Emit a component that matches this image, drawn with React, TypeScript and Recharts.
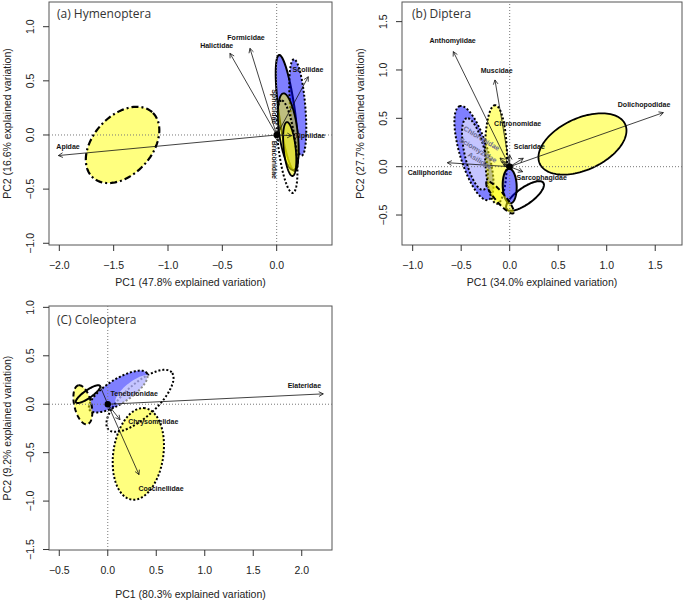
import React from "react";
import {
  ScatterChart,
  Scatter,
  XAxis,
  YAxis,
  ReferenceLine,
  ReferenceArea,
  ReferenceDot,
} from "recharts";

const FONT = "'Liberation Sans', Arial, Helvetica, sans-serif";
const TITLE_FONT = "'Open Sans', 'Noto Sans', sans-serif";

// ---------------- (a) Hymenoptera ----------------
const hymXTicks = [-2, -1.5, -1, -0.5, 0];
const hymYTicks = [-1, -0.5, 0, 0.5, 1];
const hymArrows = [
  { name: "Apidae", x: -2.009, y: -0.19 },
  { name: "Halictidae", x: -0.43, y: 0.754 },
  { name: "Formicidae", x: -0.246, y: 0.8 },
  { name: "Scoliidae", x: 0.291, y: 0.538 },
  { name: "Tiphiidae", x: 0.138, y: -0.006 },
  { name: "Sphecidae", x: 0.02, y: 0.09 },
  { name: "Braconidae", x: 0.02, y: -0.06 },
];
const hymLabels = [
  { name: "Apidae", x: -1.92, y: -0.111, rot: 0, tone: "dark" },
  { name: "Halictidae", x: -0.552, y: 0.822, rot: 0, tone: "dark" },
  { name: "Formicidae", x: -0.282, y: 0.902, rot: 0, tone: "dark" },
  { name: "Scoliidae", x: 0.288, y: 0.609, rot: 0, tone: "dark" },
  { name: "Tiphiidae", x: 0.306, y: -0.009, rot: 0, tone: "dark" },
  { name: "Sphecidae", x: -0.022, y: 0.261, rot: 90, tone: "dark" },
  { name: "Braconidae", x: -0.022, y: -0.23, rot: 90, tone: "dark" },
];
const hymEllipses = [
  { cx: -1.418, cy: -0.092, a: 0.407, b: 0.27, angle: 48, kind: "yellowDotDash" },
  { cx: 0.095, cy: 0.203, a: 0.54, b: 0.075, angle: 97.7, kind: "blueSolid" },
  { cx: 0.194, cy: 0.254, a: 0.446, b: 0.07, angle: 94.6, kind: "blueDotted" },
  { cx: 0.107, cy: 0.03, a: 0.357, b: 0.085, angle: 97.4, kind: "yellowSolid" },
  { cx: 0.12, cy: -0.13, a: 0.25, b: 0.055, angle: 96, kind: "yellowSolid" },
  { cx: 0.096, cy: -0.108, a: 0.43, b: 0.08, angle: 97, kind: "emptyDotted" },
];
const hymCentroids = [{ x: 0, y: 0 }];

// ---------------- (b) Diptera ----------------
const dipXTicks = [-1, -0.5, 0, 0.5, 1, 1.5];
const dipYTicks = [-0.5, 0, 0.5, 1, 1.5];
const dipArrows = [
  { name: "Anthomyiidae", x: -0.581, y: 1.19 },
  { name: "Muscidae", x: -0.152, y: 0.897 },
  { name: "Dolichopodidae", x: 1.584, y: 0.559 },
  { name: "Calliphoridae", x: -0.643, y: 0.041 },
  { name: "Sciaridae", x: 0.14, y: 0.087 },
  { name: "Sarcophagidae", x: 0.134, y: -0.052 },
  { name: "Chironomidae", x: 0.0, y: 0.12 },
  { name: "Chloropidae", x: -0.1, y: 0.09 },
  { name: "Sciomyzidae", x: -0.08, y: 0.05 },
  { name: "Asilidae", x: -0.06, y: 0.02 },
];
const dipLabels = [
  { name: "Anthomyiidae", x: -0.588, y: 1.303, rot: 0, tone: "dark" },
  { name: "Muscidae", x: -0.134, y: 0.99, rot: 0, tone: "dark" },
  { name: "Dolichopodidae", x: 1.385, y: 0.645, rot: 0, tone: "dark" },
  { name: "Calliphoridae", x: -0.822, y: -0.062, rot: 0, tone: "dark" },
  { name: "Sciaridae", x: 0.202, y: 0.207, rot: 0, tone: "dark" },
  { name: "Sarcophagidae", x: 0.33, y: -0.114, rot: 0, tone: "dark" },
  { name: "Chironomidae", x: 0.082, y: 0.442, rot: 0, tone: "dark" },
  { name: "Chloropidae", x: -0.289, y: 0.294, rot: 31, tone: "faded" },
  { name: "Sciomyzidae", x: -0.324, y: 0.173, rot: 31, tone: "faded" },
  { name: "Asilidae", x: -0.306, y: 0.062, rot: 31, tone: "faded" },
];
const dipEllipses = [
  { cx: 0.75, cy: 0.235, a: 0.485, b: 0.267, angle: 25, kind: "yellowSolid" },
  { cx: 0.158, cy: -0.303, a: 0.233, b: 0.085, angle: 36, kind: "emptySolid" },
  { cx: -0.368, cy: 0.141, a: 0.507, b: 0.145, angle: 106.8, kind: "blueDotted" },
  { cx: -0.358, cy: 0.131, a: 0.38, b: 0.105, angle: 103, kind: "paleDotted" },
  { cx: -0.141, cy: 0.126, a: 0.51, b: 0.113, angle: 91, kind: "yellowDotted" },
  { cx: 0.0, cy: -0.2, a: 0.18, b: 0.072, angle: 92, kind: "blueSolid" },
  { cx: -0.1, cy: -0.318, a: 0.213, b: 0.05, angle: 130, kind: "yellowDashed" },
];
const dipCentroids = [{ x: 0, y: 0 }];

// ---------------- (C) Coleoptera ----------------
const colXTicks = [-0.5, 0, 0.5, 1, 1.5, 2];
const colYTicks = [-1.5, -1, -0.5, 0, 0.5, 1];
const colArrows = [
  { name: "Elateridae", x: 2.222, y: 0.107 },
  { name: "Chrysomelidae", x: 0.126, y: -0.16 },
  { name: "Coccinellidae", x: 0.322, y: -0.727 },
  { name: "Tenebrionidae", x: -0.08, y: 0.19 },
];
const colLabels = [
  { name: "Elateridae", x: 2.027, y: 0.193, rot: 0, tone: "dark" },
  { name: "Chrysomelidae", x: 0.469, y: -0.178, rot: 0, tone: "dark" },
  { name: "Coccinellidae", x: 0.549, y: -0.871, rot: 0, tone: "dark" },
  { name: "Tenebrionidae", x: 0.273, y: 0.114, rot: 0, tone: "dark" },
];
const colEllipses = [
  { cx: 0.315, cy: -0.513, a: 0.477, b: 0.258, angle: 81.7, kind: "yellowDotted" },
  { cx: 0.332, cy: 0.035, a: 0.44, b: 0.17, angle: 42, kind: "emptyDotted" },
  { cx: 0.108, cy: 0.131, a: 0.351, b: 0.124, angle: 32.6, kind: "blueDotted" },
  { cx: 0.263, cy: 0.148, a: 0.227, b: 0.082, angle: 38, kind: "paleNone" },
  { cx: -0.257, cy: -0.006, a: 0.206, b: 0.088, angle: 103, kind: "yellowDashed" },
  { cx: -0.204, cy: 0.104, a: 0.15, b: 0.041, angle: 34.8, kind: "emptySolid" },
];
const colCentroids = [{ x: 0, y: 0 }];

// ---------------- styles ----------------
const YEL = "rgba(255,255,0,0.5)";
const BLU = "rgba(0,0,255,0.5)";
const PALE = "rgba(255,255,255,0.55)";
const ELLIPSE_STYLE: Record<string, { fill: string; stroke: string; dash?: string; w: number }> = {
  yellowSolid: { fill: YEL, stroke: "#000", w: 1.8 },
  yellowDotted: { fill: YEL, stroke: "#000", dash: "2 2", w: 2 },
  yellowDashed: { fill: YEL, stroke: "#000", dash: "5 3", w: 2 },
  yellowDotDash: { fill: YEL, stroke: "#000", dash: "7 3 2 3", w: 2.2 },
  blueSolid: { fill: BLU, stroke: "#000", w: 2 },
  blueDotted: { fill: BLU, stroke: "#000", dash: "2 2", w: 2 },
  paleDotted: { fill: PALE, stroke: "#000", dash: "2 2", w: 2 },
  paleNone: { fill: PALE, stroke: "none", w: 0 },
  emptySolid: { fill: "none", stroke: "#000", w: 2 },
  emptyDotted: { fill: "none", stroke: "#000", dash: "2 2", w: 2 },
};

const UNIT = 0.1; // probe size used to read the axis scales from a ReferenceArea

function ellipsePath(X0: number, Y0: number, kx: number, ky: number, a: number, b: number, angDeg: number) {
  const th = (angDeg * Math.PI) / 180;
  const n = 120;
  let d = "";
  for (let i = 0; i <= n; i++) {
    const t = (2 * Math.PI * i) / n;
    const dx = a * Math.cos(t) * Math.cos(th) - b * Math.sin(t) * Math.sin(th);
    const dy = a * Math.cos(t) * Math.sin(th) + b * Math.sin(t) * Math.cos(th);
    const px = X0 + kx * dx;
    const py = Y0 - ky * dy;
    d += (i === 0 ? "M" : "L") + px.toFixed(2) + "," + py.toFixed(2);
  }
  return d + "Z";
}

const fmt = (v: number) => {
  const s = Math.abs(v).toFixed(1);
  return v < 0 ? "\u2212" + s : s;
};

type PanelCfg = {
  left: number;
  top: number;
  width: number;
  height: number;
  margin: { top: number; right: number; bottom: number; left: number };
  yAxisWidth: number;
  xAxisHeight: number;
  xDomain: [number, number];
  yDomain: [number, number];
  xTicks: number[];
  yTicks: number[];
  ellipses: typeof hymEllipses;
  arrows: typeof hymArrows;
  labels: typeof hymLabels;
  centroids: { x: number; y: number }[];
  title: string;
  titleDx: number;
  titleDy: number;
  xTitle: string;
  yTitle: string;
  xTitleDy: number;
};

const XTick = (props: any) => {
  const { x, y, payload } = props;
  return (
    <text x={x} y={y + 18} textAnchor="middle" fontFamily={FONT} fontSize={10.5} fill="#222">
      {fmt(payload.value)}
    </text>
  );
};

const YTick = (props: any) => {
  const { x, y, payload } = props;
  const bx = x - 9;
  return (
    <text
      x={bx}
      y={y}
      transform={`rotate(-90, ${bx}, ${y})`}
      textAnchor="middle"
      fontFamily={FONT}
      fontSize={10.5}
      fill="#222"
    >
      {fmt(payload.value)}
    </text>
  );
};

function arrowShape(props: any) {
  const { x1, y1, x2, y2 } = props;
  if (x1 == null || x2 == null) return <g />;
  const ang = Math.atan2(y2 - y1, x2 - x1);
  const L = 5;
  const spread = (28 * Math.PI) / 180;
  const ax1 = x2 - L * Math.cos(ang - spread);
  const ay1 = y2 - L * Math.sin(ang - spread);
  const ax2 = x2 - L * Math.cos(ang + spread);
  const ay2 = y2 - L * Math.sin(ang + spread);
  return (
    <g>
      <line x1={x1} y1={y1} x2={x2} y2={y2} stroke="#111" strokeWidth={0.8} />
      <polyline points={`${ax1},${ay1} ${x2},${y2} ${ax2},${ay2}`} fill="none" stroke="#111" strokeWidth={0.8} />
    </g>
  );
}

function Panel({ cfg }: { cfg: PanelCfg }) {
  const [x0, x1] = cfg.xDomain;
  const [y0, y1] = cfg.yDomain;
  return (
    <div style={{ position: "absolute", left: cfg.left, top: cfg.top, width: cfg.width, height: cfg.height }}>
      <ScatterChart width={cfg.width} height={cfg.height} margin={cfg.margin}>
        <XAxis
          type="number"
          dataKey="x"
          domain={cfg.xDomain}
          ticks={cfg.xTicks}
          allowDataOverflow
          axisLine={false}
          tickLine={{ stroke: "#333" }}
          tickSize={6}
          tickMargin={0}
          height={cfg.xAxisHeight}
          tick={<XTick />}
          interval={0}
          label={{
            content: (p: any) => {
              const vb = p.viewBox || { x: 0, y: 0, width: 0 };
              return (
                <text
                  x={vb.x + vb.width / 2}
                  y={vb.y + cfg.xTitleDy}
                  textAnchor="middle"
                  fontFamily={FONT}
                  fontSize={10.5}
                  fill="#222"
                >
                  {cfg.xTitle}
                </text>
              );
            },
          }}
        />
        <YAxis
          type="number"
          dataKey="y"
          domain={cfg.yDomain}
          ticks={cfg.yTicks}
          allowDataOverflow
          axisLine={false}
          tickLine={{ stroke: "#333" }}
          tickSize={6}
          tickMargin={0}
          width={cfg.yAxisWidth}
          tick={<YTick />}
          interval={0}
          label={{
            content: (p: any) => {
              const vb = p.viewBox || { x: 0, y: 0, width: 0, height: 0 };
              const bx = vb.x + vb.width - 38;
              const cy = vb.y + vb.height / 2;
              return (
                <text
                  x={bx}
                  y={cy}
                  transform={`rotate(-90, ${bx}, ${cy})`}
                  textAnchor="middle"
                  fontFamily={FONT}
                  fontSize={10.5}
                  fill="#222"
                >
                  {cfg.yTitle}
                </text>
              );
            },
          }}
        />
        {/* zero lines */}
        <ReferenceLine x={0} stroke="#777" strokeDasharray="1 2" strokeWidth={1} />
        <ReferenceLine y={0} stroke="#777" strokeDasharray="1 2" strokeWidth={1} />
        {/* ellipses */}
        {cfg.ellipses.map((e, i) => {
          const st = ELLIPSE_STYLE[e.kind];
          return (
            <ReferenceArea
              key={"e" + i}
              x1={e.cx}
              x2={e.cx + UNIT}
              y1={e.cy}
              y2={e.cy + UNIT}
              ifOverflow="visible"
              shape={(p: any) => {
                if (p.x == null) return <g />;
                const kx = p.width / UNIT;
                const ky = p.height / UNIT;
                const X0 = p.x;
                const Y0 = p.y + p.height;
                return (
                  <path
                    d={ellipsePath(X0, Y0, kx, ky, e.a, e.b, e.angle)}
                    fill={st.fill}
                    stroke={st.stroke}
                    strokeWidth={st.w}
                    strokeDasharray={st.dash}
                  />
                );
              }}
            />
          );
        })}
        {/* loading arrows */}
        {cfg.arrows.map((a, i) => (
          <ReferenceLine
            key={"a" + i}
            segment={[
              { x: 0, y: 0 },
              { x: a.x, y: a.y },
            ]}
            ifOverflow="visible"
            shape={arrowShape}
          />
        ))}
        <Scatter
          data={cfg.centroids}
          isAnimationActive={false}
          shape={(p: any) => <circle cx={p.cx} cy={p.cy} r={3.2} fill="#000" />}
        />
        {/* arrow labels */}
        {cfg.labels.map((l, i) => (
          <ReferenceDot
            key={"l" + i}
            x={l.x}
            y={l.y}
            ifOverflow="visible"
            shape={(p: any) => (
              <text
                x={p.cx}
                y={p.cy}
                dy={2.5}
                transform={l.rot ? `rotate(${l.rot}, ${p.cx}, ${p.cy})` : undefined}
                textAnchor="middle"
                fontFamily={FONT}
                fontSize={7}
                fontWeight="bold"
                opacity={0.99}
                fill={l.tone === "faded" ? "#6b6b8f" : "#111"}
              >
                {l.name}
              </text>
            )}
          />
        ))}
        {/* plot box + panel title */}
        <ReferenceArea
          x1={x0}
          x2={x1}
          y1={y0}
          y2={y1}
          ifOverflow="visible"
          shape={(p: any) => (
            <g>
              <rect x={p.x} y={p.y} width={p.width} height={p.height} fill="none" stroke="#555" strokeWidth={1} />
              <text x={p.x + cfg.titleDx} y={p.y + cfg.titleDy} fontFamily={TITLE_FONT} fontSize={12} fill="#333">
                {cfg.title}
              </text>
            </g>
          )}
        />
      </ScatterChart>
    </div>
  );
}

const panelA: PanelCfg = {
  left: 0,
  top: 0,
  width: 340,
  height: 290,
  margin: { top: 2, right: 8, bottom: 0, left: 0 },
  yAxisWidth: 49,
  xAxisHeight: 45,
  xDomain: [-2.095, 0.509],
  yDomain: [-1.016, 1.228],
  xTicks: hymXTicks,
  yTicks: hymYTicks,
  ellipses: hymEllipses,
  arrows: hymArrows,
  labels: hymLabels,
  centroids: hymCentroids,
  title: "(a) Hymenoptera",
  titleDx: 8,
  titleDy: 15.5,
  xTitle: "PC1 (47.8% explained variation)",
  yTitle: "PC2 (16.6% explained variation)",
  xTitleDy: 40.5,
};

const panelB: PanelCfg = {
  left: 340,
  top: 0,
  width: 345,
  height: 290,
  margin: { top: 2, right: 3, bottom: 0, left: 0 },
  yAxisWidth: 62,
  xAxisHeight: 45,
  xDomain: [-1.11, 1.776],
  yDomain: [-0.81, 1.703],
  xTicks: dipXTicks,
  yTicks: dipYTicks,
  ellipses: dipEllipses,
  arrows: dipArrows,
  labels: dipLabels,
  centroids: dipCentroids,
  title: "(b) Diptera",
  titleDx: 10,
  titleDy: 15.5,
  xTitle: "PC1 (34.0% explained variation)",
  yTitle: "PC2 (27.7% explained variation)",
  xTitleDy: 40.5,
};

const panelC: PanelCfg = {
  left: 0,
  top: 290,
  width: 340,
  height: 312,
  margin: { top: 16, right: 8, bottom: 0, left: 0 },
  yAxisWidth: 49,
  xAxisHeight: 52,
  xDomain: [-0.606, 2.312],
  yDomain: [-1.505, 1.014],
  xTicks: colXTicks,
  yTicks: colYTicks,
  ellipses: colEllipses,
  arrows: colArrows,
  labels: colLabels,
  centroids: colCentroids,
  title: "(C) Coleoptera",
  titleDx: 8,
  titleDy: 17.5,
  xTitle: "PC1 (80.3% explained variation)",
  yTitle: "PC2 (9.2% explained variation)",
  xTitleDy: 48,
};

export default function App() {
  return (
    <div style={{ position: "absolute", left: 0, top: 0, width: 685, height: 602, background: "#fff" }}>
      <Panel cfg={panelA} />
      <Panel cfg={panelB} />
      <Panel cfg={panelC} />
    </div>
  );
}
